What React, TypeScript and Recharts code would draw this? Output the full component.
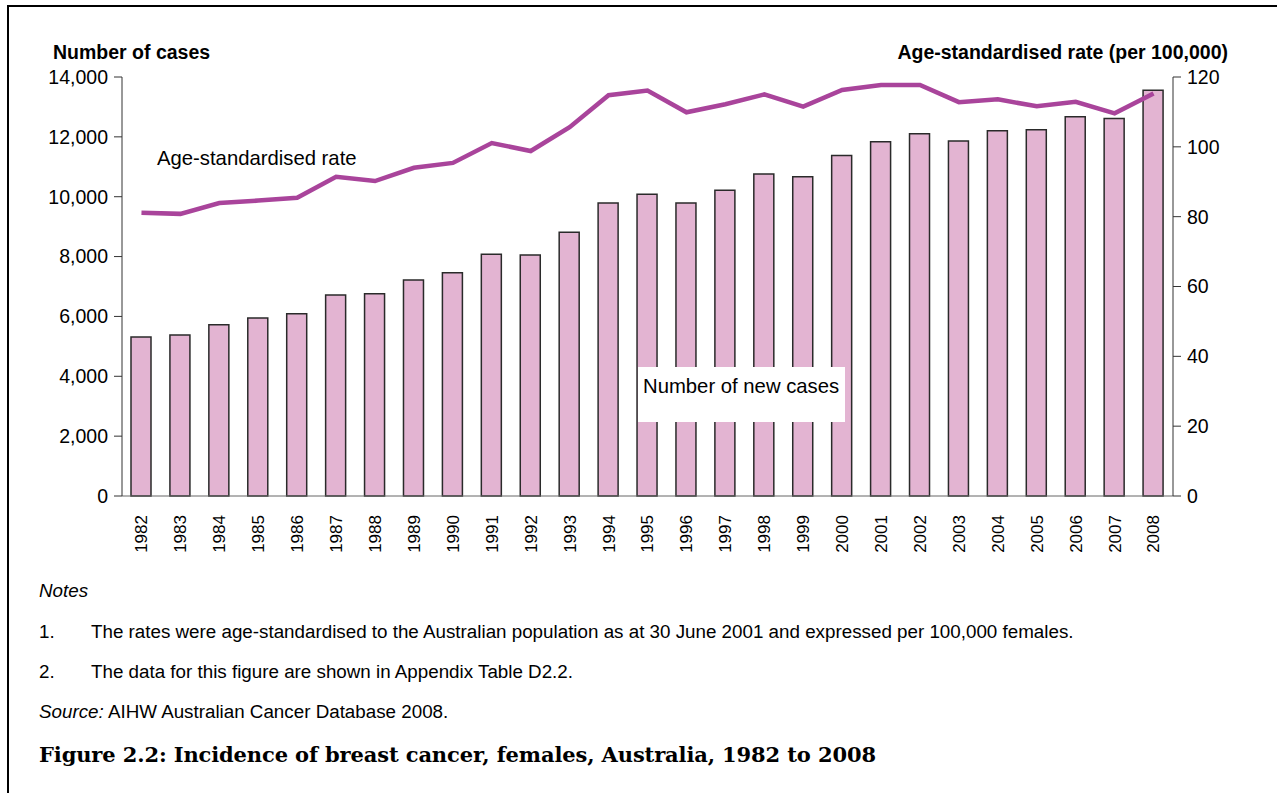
import React from 'react';
import { ComposedChart, Bar, Line, XAxis, YAxis } from 'recharts';

const years = [
  '1982', '1983', '1984', '1985', '1986', '1987', '1988', '1989', '1990',
  '1991', '1992', '1993', '1994', '1995', '1996', '1997', '1998', '1999',
  '2000', '2001', '2002', '2003', '2004', '2005', '2006', '2007', '2008',
];

// number of new cases (left axis)
const newCases = [
  5310, 5380, 5720, 5950, 6090, 6720, 6760, 7220, 7460,
  8080, 8050, 8810, 9790, 10080, 9790, 10220, 10760, 10670,
  11380, 11840, 12100, 11860, 12200, 12240, 12670, 12610, 13560,
];

// age-standardised rate per 100,000 (right axis)
const ageStdRate = [
  81.1, 80.8, 83.9, 84.6, 85.4, 91.4, 90.2, 94.0, 95.4,
  101.1, 98.8, 105.6, 114.8, 116.1, 109.9, 112.2, 115.0, 111.5,
  116.3, 117.7, 117.7, 112.8, 113.6, 111.6, 112.9, 109.6, 115.3,
];

const caseTicks = [0, 2000, 4000, 6000, 8000, 10000, 12000, 14000];
const rateTicks = [0, 20, 40, 60, 80, 100, 120];

const FONT = '"Liberation Sans", Arial, sans-serif';
const SERIF = '"DejaVu Serif", "Liberation Serif", serif';

const data = years.map((year, i) => ({
  year,
  cases: newCases[i],
  rate: ageStdRate[i],
}));

function YearTick({ x, y, payload }: { x?: number; y?: number; payload?: { value: string } }) {
  return (
    <text
      x={x}
      y={y}
      transform={`rotate(-90, ${x}, ${y})`}
      textAnchor="end"
      dy="0.35em"
      fontSize={17}
      fontFamily={FONT}
      fill="#000"
    >
      {payload?.value}
    </text>
  );
}

const tickStyle = { fontSize: 19.5, fill: '#000', fontFamily: FONT };

export default function App() {
  return (
    <div style={{ position: 'absolute', left: 0, top: 0, width: 1277, height: 793, overflow: 'hidden', background: '#fff' }}>
      <div style={{ position: 'absolute', left: 7, top: 5, width: 1300, height: 820, borderLeft: '2px solid #000', borderTop: '2px solid #000' }} />
      <div style={{ position: 'absolute', left: 0, top: 0 }}>
        <ComposedChart width={1277} height={560} data={data} margin={{ top: 77, right: 0, bottom: 4, left: 0 }}>
          <XAxis
            dataKey="year"
            tickLine={false}
            tickSize={0}
            tickMargin={19}
            height={60}
            interval={0}
            stroke="#666"
            tick={<YearTick />}
          />
          <YAxis
            yAxisId="left"
            width={122}
            domain={[0, 14000]}
            ticks={caseTicks}
            tickFormatter={(v: number) => v.toLocaleString('en-US')}
            tickSize={8}
            tickMargin={6}
            stroke="#333"
            tick={tickStyle}
          />
          <YAxis
            yAxisId="right"
            orientation="right"
            width={104}
            domain={[0, 120]}
            ticks={rateTicks}
            tickSize={8}
            tickMargin={6}
            stroke="#333"
            tick={tickStyle}
          />
          <Bar
            yAxisId="left"
            dataKey="cases"
            barSize={20}
            fill="#e3b4d2"
            stroke="#2a2a2a"
            strokeWidth={1.5}
            isAnimationActive={false}
          />
          <Line
            yAxisId="right"
            dataKey="rate"
            type="linear"
            stroke="#a9449b"
            strokeWidth={4.5}
            dot={false}
            activeDot={false}
            isAnimationActive={false}
          />
        </ComposedChart>
      </div>
      <svg width={1277} height={793} style={{ position: 'absolute', left: 0, top: 0, pointerEvents: 'none' }}>
        <g fontFamily={FONT} fill="#000">
          <text x={53} y={59} fontSize={19.5} fontWeight="bold">Number of cases</text>
          <text x={1228} y={59} fontSize={19.5} fontWeight="bold" textAnchor="end">Age-standardised rate (per 100,000)</text>
          <text x={157} y={165} fontSize={20.3}>Age-standardised rate</text>
          <rect x={638} y={367} width={207} height={55} fill="#fff" />
          <text x={643} y={393} fontSize={20.3}>Number of new cases</text>
          <text x={39} y={597} fontSize={18.8} fontStyle="italic">Notes</text>
          <text x={39} y={638} fontSize={18.8}>1.</text>
          <text x={91} y={638} fontSize={18.8}>The rates were age-standardised to the Australian population as at 30 June 2001 and expressed per 100,000 females.</text>
          <text x={39} y={678} fontSize={18.8}>2.</text>
          <text x={91} y={678} fontSize={18.8}>The data for this figure are shown in Appendix Table D2.2.</text>
          <text x={39} y={718} fontSize={18.8}>
            <tspan fontStyle="italic">Source:</tspan> AIHW Australian Cancer Database 2008.
          </text>
        </g>
        <text x={39} y={762} fontSize={21} fontWeight="bold" fontFamily={SERIF} fill="#000" textLength={837} lengthAdjust="spacing">
          Figure 2.2: Incidence of breast cancer, females, Australia, 1982 to 2008
        </text>
      </svg>
    </div>
  );
}
